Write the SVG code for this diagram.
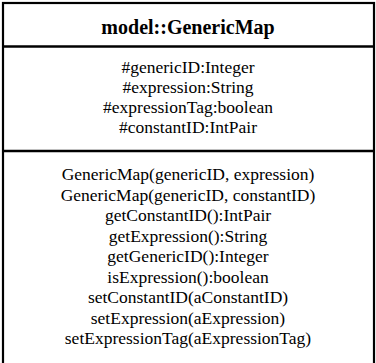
<svg xmlns="http://www.w3.org/2000/svg" width="376" height="363" viewBox="0 0 376 363">
<style>
text{font-family:'Liberation Serif','DejaVu Serif',serif;font-size:17.5px;fill:#000;text-anchor:middle}
.h{font-weight:bold;font-size:20px}
.b{fill:#fff;stroke:#000;stroke-width:2.2}
.l{stroke:#000;stroke-width:2.6}
</style>
<rect width="376" height="363" fill="#fff"/>
<g id="GenericMap">
<rect class="b" x="3" y="3" width="371" height="370"/>
<line class="l" x1="3" y1="46.5" x2="374" y2="46.5"/>
<line class="l" x1="3" y1="151" x2="374" y2="151"/>
<text class="h" x="188" y="33.5">model::GenericMap</text>
<text x="188" y="73">#genericID:Integer</text>
<text x="188" y="93">#expression:String</text>
<text x="188" y="113">#expressionTag:boolean</text>
<text x="188" y="133">#constantID:IntPair</text>
<text x="188" y="180">GenericMap(genericID, expression)</text>
<text x="188" y="200.5">GenericMap(genericID, constantID)</text>
<text x="188" y="221">getConstantID():IntPair</text>
<text x="188" y="241.5">getExpression():String</text>
<text x="188" y="262">getGenericID():Integer</text>
<text x="188" y="282.5">isExpression():boolean</text>
<text x="188" y="303">setConstantID(aConstantID)</text>
<text x="188" y="323.5">setExpression(aExpression)</text>
<text x="188" y="344">setExpressionTag(aExpressionTag)</text>
</g>
</svg>
